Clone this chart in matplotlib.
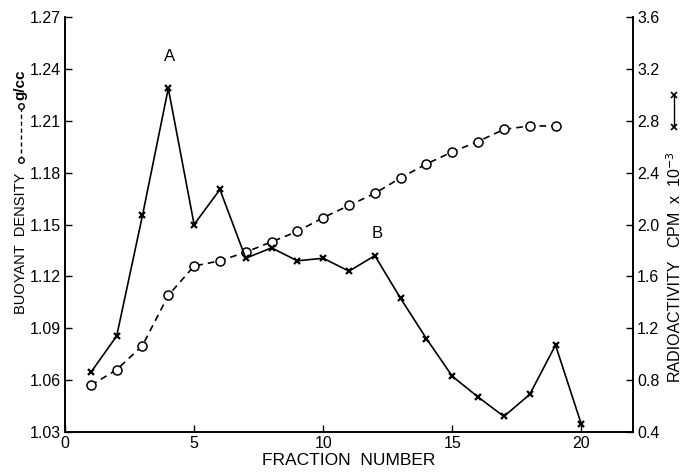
import matplotlib
matplotlib.use("Agg")
import matplotlib.pyplot as plt
from matplotlib.lines import Line2D

plt.rcParams['font.family'] = ['Liberation Sans', 'DejaVu Sans']

# ---- data ----
density_fraction = list(range(1, 20))
density = [1.057, 1.066, 1.080, 1.109, 1.126, 1.129, 1.134, 1.140, 1.146, 1.154,
           1.161, 1.168, 1.177, 1.185, 1.192, 1.198, 1.205, 1.207, 1.207]

radio_fraction = list(range(1, 21))
radio = [0.86, 1.14, 2.07, 3.05, 2.00, 2.27, 1.74, 1.82, 1.72, 1.74,
         1.64, 1.76, 1.43, 1.12, 0.83, 0.67, 0.52, 0.69, 1.07, 0.46]

x_ticks = [0, 5, 10, 15, 20]
left_ticks = [1.03, 1.06, 1.09, 1.12, 1.15, 1.18, 1.21, 1.24, 1.27]
left_labels = ["1.03", "1.06", "1.09", "1.12", "1.15", "1.18", "1.21", "1.24", "1.27"]
right_ticks = [0.4, 0.8, 1.2, 1.6, 2.0, 2.4, 2.8, 3.2, 3.6]
right_labels = ["0.4", "0.8", "1.2", "1.6", "2.0", "2.4", "2.8", "3.2", "3.6"]

peak_labels = ["A", "B"]
peak_x = [4.05, 12.1]
peak_y = [1.247, 1.145]

# ---- figure ----
fig = plt.figure(figsize=(6.86, 4.72), dpi=100)
ax = fig.add_axes([0.0948, 0.0847, 0.8279, 0.8793])
ax2 = ax.twinx()

ax.plot(density_fraction, density, color='black', linestyle=(0, (4, 3)), linewidth=1.2,
        marker='o', markersize=6.5, markerfacecolor='white', markeredgecolor='black',
        markeredgewidth=1.1, zorder=3)
ax2.plot(radio_fraction, radio, color='black', linestyle='-', linewidth=1.2,
         marker='x', markersize=4.5, markeredgewidth=1.6, zorder=3)

ax.set_xlim(0, 22)
ax.set_ylim(1.03, 1.27)
ax2.set_ylim(0.4, 3.6)

ax.set_xticks(x_ticks)
ax.set_xticklabels([str(t) for t in x_ticks])
ax.set_yticks(left_ticks)
ax.set_yticklabels(left_labels)
ax2.set_yticks(right_ticks)
ax2.set_yticklabels(right_labels)

for a in (ax, ax2):
    a.spines['top'].set_visible(False)
    for s in a.spines.values():
        s.set_linewidth(1.2)
ax.tick_params(axis='both', direction='in', length=5, width=1.0, labelsize=11.5, pad=3)
ax2.tick_params(axis='y', direction='in', length=5, width=1.0, labelsize=11.5, pad=3)
ax.tick_params(axis='x', pad=3)

for lab, xx, yy in zip(peak_labels, peak_x, peak_y):
    ax.text(xx, yy, lab, ha='center', va='center', fontsize=12)

ax.set_xlabel("FRACTION  NUMBER", fontsize=12.5, labelpad=1)

# left axis label
fig.text(0.030, (472 - 243) / 472, "BUOYANT  DENSITY", rotation=90, ha='center', va='center',
         fontsize=10.5)
fig.add_artist(Line2D([0.030, 0.030], [(472 - 160) / 472, (472 - 106) / 472],
                      transform=fig.transFigure, color='black', linestyle=(0, (3, 2)),
                      linewidth=1.0, marker='o', markersize=4, markerfacecolor='white',
                      markeredgewidth=1.0))
fig.text(0.030, (472 - 85) / 472, "g/cc", rotation=90, ha='center', va='center',
         fontsize=11, fontweight='bold')

# right axis label
fig.text(0.983, (472 - 320) / 472, "RADIOACTIVITY", rotation=90, ha='center', va='center',
         fontsize=11.5)
fig.text(0.983, (472 - 200) / 472, r"CPM  x  10$^{-3}$", rotation=90, ha='center',
         va='center', fontsize=11.5)
fig.add_artist(Line2D([0.983, 0.983], [(472 - 127) / 472, (472 - 95) / 472],
                      transform=fig.transFigure, color='black', linewidth=1.0,
                      marker='x', markersize=4, markeredgewidth=1.2))

fig.savefig("out.png", dpi=100)
